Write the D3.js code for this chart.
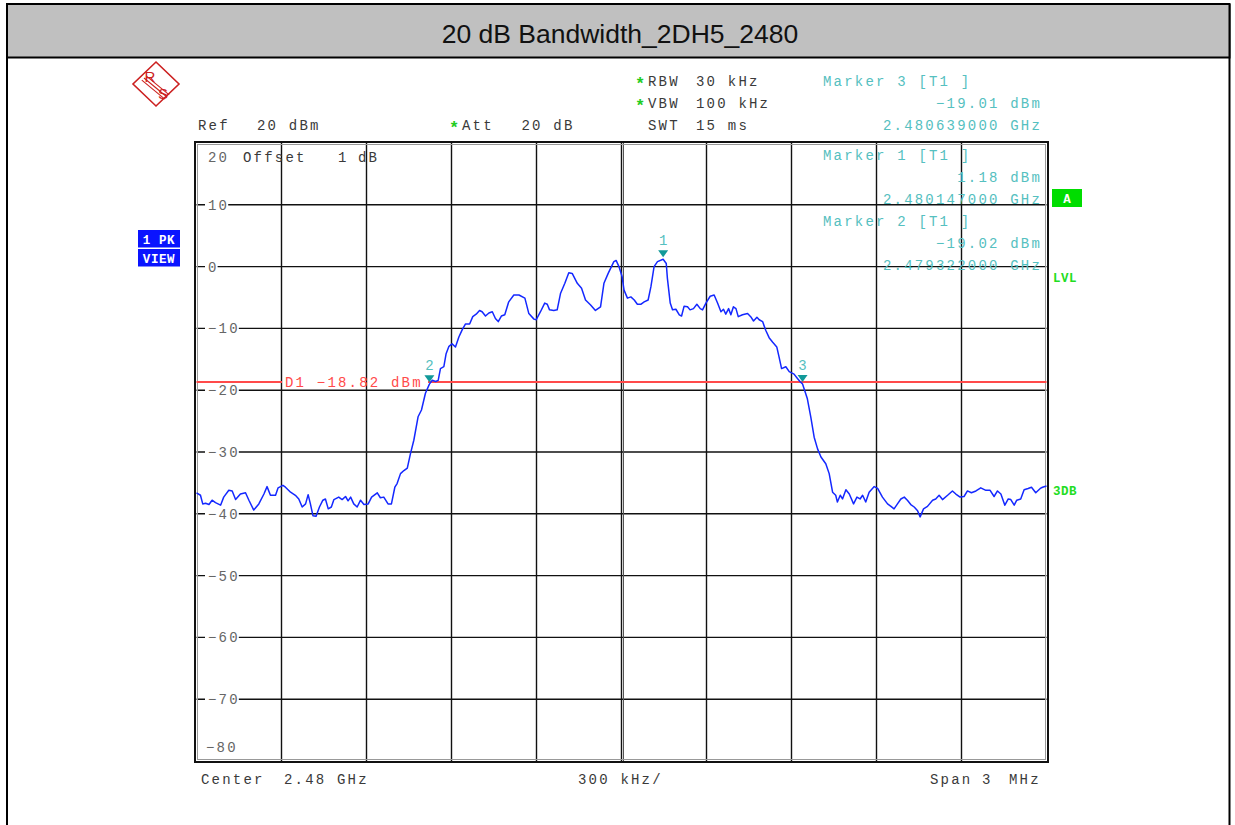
<!DOCTYPE html>
<html><head><meta charset="utf-8">
<script src="https://cdn.jsdelivr.net/npm/d3@7"></script>
<style>body{margin:0;background:#fff}</style>
</head><body>
<script>
// ---------------- data ----------------
const chartTitle = "20 dB Bandwidth_2DH5_2480";
const traceFreqKHz = [-1500,-1486,-1478,-1468,-1456,-1445,-1433,-1415,-1404,-1386,-1374,-1362,-1345,-1327,-1315,-1298,-1280,-1262,-1251,-1239,-1221,-1212,-1195,-1186,-1168,-1151,-1139,-1127,-1115,-1106,-1098,-1089,-1078,-1066,-1054,-1045,-1035,-1024,-1015,-998,-986,-974,-965,-956,-945,-933,-921,-909,-894,-882,-862,-851,-839,-824,-812,-800,-792,-780,-768,-756,-745,-733,-718,-706,-692,-678,-668,-656,-647,-639,-627,-619,-609,-598,-586,-574,-562,-551,-536,-525,-513,-501,-492,-480,-468,-456,-445,-435,-424,-412,-398,-380,-362,-341,-327,-309,-301,-286,-271,-262,-254,-239,-227,-215,-200,-186,-174,-156,-141,-127,-109,-92,-74,-62,-47,-27,-19,-9,2,9,21,33,45,56,68,80,94,104,115,127,147,158,162,172,180,192,204,212,221,233,242,254,266,278,286,298,313,327,339,351,360,368,378,386,395,404,412,427,445,456,466,478,486,498,509,521,533,548,556,565,580,592,609,621,630,639,656,668,680,692,704,721,733,745,756,762,772,780,792,804,819,831,842,851,862,874,892,904,921,939,951,962,974,986,998,1009,1021,1033,1045,1054,1066,1080,1098,1109,1121,1133,1151,1168,1180,1195,1209,1221,1235,1251,1268,1286,1301,1315,1327,1339,1353,1365,1374,1386,1395,1409,1421,1435,1447,1462,1478,1486,1500];
const traceLevelDbm = [-36.6,-37.0,-38.4,-38.3,-38.5,-37.8,-38.2,-38.6,-37.3,-36.2,-36.3,-37.7,-36.8,-36.6,-37.8,-39.4,-38.4,-36.8,-35.6,-37.0,-37.0,-35.8,-35.4,-35.7,-36.5,-37.0,-37.6,-38.9,-38.4,-36.9,-38.4,-40.3,-40.4,-38.9,-37.8,-37.6,-39.2,-38.9,-37.7,-37.3,-37.7,-37.2,-37.9,-37.3,-38.4,-38.9,-37.8,-38.5,-38.4,-37.3,-36.6,-37.4,-37.3,-38.4,-38.4,-35.7,-35.1,-33.5,-33.0,-32.6,-30.3,-28.1,-24.3,-23.2,-20.5,-19.02,-18.4,-18.6,-18.4,-16.5,-16.2,-14.1,-12.9,-12.5,-13.0,-11.4,-10.2,-9.3,-9.3,-8.1,-7.7,-7.1,-7.3,-8.0,-7.5,-7.3,-8.4,-8.9,-8.0,-7.8,-5.7,-4.6,-4.6,-5.1,-7.6,-8.5,-8.6,-7.3,-5.9,-6.1,-7.0,-7.1,-7.0,-4.3,-2.7,-1.0,-1.1,-2.7,-3.5,-5.4,-6.2,-7.1,-6.5,-2.7,-1.1,0.8,1.0,0.0,-1.6,-3.8,-5.1,-4.9,-5.4,-6.1,-6.1,-5.7,-5.4,-3.2,0.0,0.8,1.18,0.5,-1.9,-5.9,-7.0,-6.9,-7.8,-8.0,-6.4,-6.5,-7.0,-6.8,-6.1,-6.8,-7.0,-5.9,-4.8,-4.6,-5.9,-7.3,-6.9,-7.7,-6.8,-7.8,-6.5,-6.8,-8.1,-7.8,-7.6,-8.1,-8.8,-8.2,-8.6,-8.9,-10.3,-11.5,-12.2,-13.0,-14.6,-16.5,-16.2,-17.0,-17.4,-18.1,-18.6,-19.01,-21.4,-24.3,-27.6,-29.5,-30.8,-31.9,-33.5,-36.5,-37.0,-38.1,-37.0,-37.6,-36.1,-36.8,-38.4,-37.3,-37.6,-37.0,-38.1,-36.5,-35.6,-35.9,-37.3,-38.4,-38.8,-39.2,-38.4,-37.6,-37.3,-37.8,-38.5,-38.9,-39.5,-40.5,-39.2,-38.8,-37.8,-37.6,-37.0,-37.7,-37.0,-36.3,-36.8,-37.3,-37.2,-36.3,-36.6,-36.3,-35.8,-36.2,-36.2,-37.2,-36.3,-36.8,-38.6,-37.6,-37.7,-38.6,-37.8,-37.6,-36.1,-35.9,-35.7,-36.6,-35.9,-35.7,-35.5];
const levelTicks = [20,10,0,-10,-20,-30,-40,-50,-60,-70,-80];
const freqGridKHz = [-1500,-1200,-900,-600,-300,0,300,600,900,1200,1500];
const markerIds = [1,2,3];
const markerFreqGHz = [2.480147,2.479322,2.480639];
const markerLevelDbm = [1.18,-19.02,-19.01];
const markerPanelOrder = [3,1,2];
const displayLineDbm = -18.82;
const centerGHz = 2.48, spanMHz = 3, refDbm = 20, attDb = 20, offsetDb = 1;
const rbwText = "30 kHz", vbwText = "100 kHz", swtText = "15 ms";

// ---------------- setup ----------------
const W = 1235, H = 825;
const mono = "'Liberation Mono','DejaVu Sans Mono',monospace";
const LS = 2.2;
const svg = d3.select("body").append("svg").attr("width", W).attr("height", H)
  .style("display","block");
svg.append("rect").attr("width", W).attr("height", H).attr("fill", "#fff");

// outer border + title bar
svg.append("line").attr("x1",7).attr("x2",7).attr("y1",4).attr("y2",H).attr("stroke","#000").attr("stroke-width",2);
svg.append("line").attr("x1",1229.5).attr("x2",1229.5).attr("y1",4).attr("y2",H).attr("stroke","#000").attr("stroke-width",2);
svg.append("rect").attr("x",7).attr("y",4).attr("width",1222.5).attr("height",53.5)
  .attr("fill","#c0c0c0").attr("stroke","#000").attr("stroke-width",2);
svg.append("text").attr("x",620).attr("y",43).attr("text-anchor","middle")
  .attr("font-family","'Liberation Sans',Arial,sans-serif").attr("font-size",26.5)
  .attr("fill","#111").text(chartTitle);

const x = d3.scaleLinear().domain([-spanMHz*500, spanMHz*500]).range([196.5, 1046.5]);
const y = d3.scaleLinear().domain([-80, 20]).range([761, 143]);

function txt(g, xx, yy, s, opts = {}) {
  return g.append("text").attr("x", xx).attr("y", yy)
    .attr("font-family", opts.family || mono)
    .attr("font-size", opts.size || 14)
    .attr("font-weight", opts.weight || "normal")
    .attr("letter-spacing", opts.ls === undefined ? LS : opts.ls)
    .attr("text-anchor", opts.anchor || "start")
    .attr("fill", opts.fill || "#3a3a3a").text(s);
}

// ---------------- grid ----------------
const grid = svg.append("g");
grid.selectAll("line.h").data(levelTicks.slice(1, -1)).join("line")
  .attr("x1", x.range()[0]).attr("x2", x.range()[1])
  .attr("y1", d => y(d)).attr("y2", d => y(d))
  .attr("stroke", "#111").attr("stroke-width", 1.4);
grid.selectAll("line.v").data(freqGridKHz.slice(1, -1)).join("line")
  .attr("x1", d => x(d)).attr("x2", d => x(d))
  .attr("y1", y(20)).attr("y2", y(-80))
  .attr("stroke", "#111").attr("stroke-width", 1.4);
// centre double line
grid.append("line").attr("x1", x(0)+2).attr("x2", x(0)+2).attr("y1", y(20)).attr("y2", y(-80))
  .attr("stroke", "#555").attr("stroke-width", 1);
// frame
svg.append("rect").attr("x",195).attr("y",142).attr("width",853).attr("height",620)
  .attr("fill","none").attr("stroke","#111").attr("stroke-width",2);
svg.append("rect").attr("x",197.5).attr("y",144.5).attr("width",848).attr("height",615)
  .attr("fill","none").attr("stroke","#999").attr("stroke-width",1);

// y labels with gap in gridline
const fmtLvl = v => (v < 0 ? "\u2212" + Math.abs(v) : String(v));
const ylab = svg.append("g");
levelTicks.slice(1, -1).forEach(v => {
  const bg = ylab.append("rect");
  const t = txt(ylab, 208, y(v) + 5, fmtLvl(v), {fill: "#666"});
  const w = t.node().getComputedTextLength();
  bg.attr("x", 205).attr("y", y(v) - 3).attr("width", w + 2).attr("height", 6).attr("fill", "#fff");
});
txt(svg, 208, 162, fmtLvl(levelTicks[0]), {fill: "#666"});
txt(svg, 206, 752, fmtLvl(levelTicks[levelTicks.length-1]), {fill: "#666"});

// header texts
const star = (xx, yy) => txt(svg, xx, yy, "*", {fill: "#22cc22", size: 17, ls: 0, weight: "bold"});
txt(svg, 198, 130, "Ref");
txt(svg, 257, 130, refDbm + " dBm");
star(449, 133);
txt(svg, 462, 130, "Att");
txt(svg, 521.5, 130, attDb + " dB");
[["RBW", rbwText, 86, true], ["VBW", vbwText, 108, true], ["SWT", swtText, 130, false]].forEach(r => {
  if (r[3]) star(635, r[2] + 3);
  txt(svg, 648, r[2], r[0]);
  txt(svg, 696, r[2], r[1]);
});
txt(svg, 243, 162, "Offset");
txt(svg, 338, 162, String(offsetDb));
txt(svg, 358, 162, "dB");

// bottom texts
txt(svg, 201, 784, "Center");
txt(svg, 284, 784, centerGHz + " GHz");
txt(svg, 578, 784, (spanMHz * 100) + " kHz/");
txt(svg, 930, 784, "Span");
txt(svg, 982, 784, String(spanMHz));
txt(svg, 1009, 784, "MHz");

// marker panel
const cyan = "#55c0c0";
const fmtFreq = d3.format(".9f");
const fmtDb = v => (v < 0 ? "\u2212" + d3.format(".2f")(-v) : d3.format(".2f")(v)) + " dBm";
const panelRows = [86, 160, 226];
markerPanelOrder.forEach((id, k) => {
  const i = markerIds.indexOf(id);
  const by = panelRows[k];
  txt(svg, 823, by, "Marker " + id + " [T1 ]", {fill: cyan});
  txt(svg, 1042, by + 21.7, fmtDb(markerLevelDbm[i]), {fill: cyan, anchor: "end"});
  txt(svg, 1042, by + 43.5, fmtFreq(markerFreqGHz[i]) + " GHz", {fill: cyan, anchor: "end"});
});

// display line D1
const red = "#ff4a4a";
const dY = y(displayLineDbm) - 1;
svg.append("line").attr("x1", x.range()[0]).attr("x2", 282).attr("y1", dY).attr("y2", dY)
  .attr("stroke", red).attr("stroke-width", 2);
svg.append("line").attr("x1", 428).attr("x2", x.range()[1]).attr("y1", dY).attr("y2", dY)
  .attr("stroke", red).attr("stroke-width", 2);
txt(svg, 285, dY + 5, "D1 " + "\u2212" + Math.abs(displayLineDbm).toFixed(2) + " dBm", {fill: red});

// trace
const pts = traceFreqKHz.map((f, i) => [f, traceLevelDbm[i]]);
svg.append("path").datum(pts)
  .attr("d", d3.line().x(d => x(d[0])).y(d => y(d[1])))
  .attr("fill", "none").attr("stroke", "#1428ff").attr("stroke-width", 1.5)
  .attr("stroke-linejoin", "round");

// markers
markerIds.forEach((id, i) => {
  const mx = x((markerFreqGHz[i] - centerGHz) * 1e6);
  const my = y(markerLevelDbm[i]) - 2;
  svg.append("path").attr("d", `M${mx-5},${my-7}L${mx+5},${my-7}L${mx},${my}Z`).attr("fill", "#119999");
  txt(svg, mx, my - 12, String(id), {fill: cyan, anchor: "middle", ls: 0});
});

// left status boxes
[["1 PK", 230], ["VIEW", 249]].forEach(b => {
  svg.append("rect").attr("x", 138).attr("y", b[1]).attr("width", 42).attr("height", 17.5).attr("fill", "#0a14ff");
  txt(svg, 159, b[1] + 14, b[0], {fill: "#fff", weight: "bold", size: 12.5, ls: 0.6, anchor: "middle"});
});

// right side indicators
const green = "#22dd22";
svg.append("rect").attr("x", 1052).attr("y", 189).attr("width", 30).attr("height", 18).attr("fill", "#00dd00");
txt(svg, 1067, 203, "A", {fill: "#fff", weight: "bold", size: 12.5, ls: 0, anchor: "middle"});
txt(svg, 1053, 282, "LVL", {fill: green, weight: "bold", size: 12.5, ls: 0.5});
txt(svg, 1053, 495, "3DB", {fill: green, weight: "bold", size: 12.5, ls: 0.5});

// R&S logo
const logo = svg.append("g").attr("transform", "translate(156,84)");
const lr = "#cc2020";
logo.append("path").attr("d", "M0,-22L23,0L0,22L-23,0Z").attr("fill", "none").attr("stroke", lr).attr("stroke-width", 1.6);
[-2.2, 0, 2.2].forEach(o => {
  logo.append("line").attr("x1", -12 + o).attr("y1", -6 - o).attr("x2", 11 + o).attr("y2", 13 - o)
    .attr("stroke", lr).attr("stroke-width", 1.1);
});
logo.append("text").attr("x", -6).attr("y", -2).attr("text-anchor", "middle")
  .attr("font-family", "'Liberation Sans',sans-serif").attr("font-size", 15).attr("fill", lr).text("R");
logo.append("text").attr("x", 7).attr("y", 15).attr("text-anchor", "middle")
  .attr("font-family", "'Liberation Sans',sans-serif").attr("font-size", 15).attr("fill", lr).text("S");
</script>
</body></html>
